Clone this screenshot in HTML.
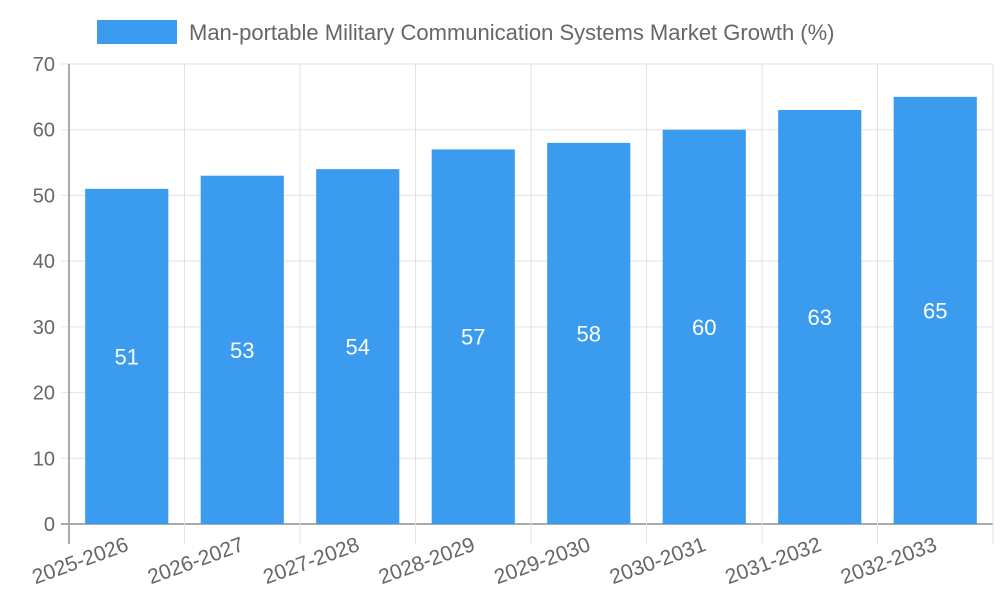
<!DOCTYPE html>
<html><head><meta charset="utf-8"><style>
body{margin:0;background:#fff;}
svg{display:block;font-family:"Liberation Sans",sans-serif;}
</style></head><body>
<svg id="chart" width="1000" height="600">
<rect x="97" y="20" width="80" height="24" fill="#3a9bef"></rect>
<text x="189" y="40" font-size="22" fill="#666">Man-portable Military Communication Systems Market Growth (%)</text>
</svg>
<script>
const categories=["2025-2026","2026-2027","2027-2028","2028-2029","2029-2030","2030-2031","2031-2032","2032-2033"];
const values=[51,53,54,57,58,60,63,65];
const yTicks=[0,10,20,30,40,50,60,70];
const svg=document.getElementById('chart');
const NS='http://www.w3.org/2000/svg';
const X0=69,X1=993,Y0=524,Y1=64,YMAX=70;
const bw=(X1-X0)/categories.length;
const y=v=>Y0-(v/YMAX)*(Y0-Y1);
const x=i=>X0+i*bw;
function mk(t,a){const e=document.createElementNS(NS,t);for(const k in a)e.setAttribute(k,a[k]);svg.appendChild(e);return e;}
yTicks.forEach(t=>{
  const l=mk('line',{x1:X0-8,x2:X1,y1:y(t),y2:y(t),stroke:t===0?'#aaa':'#e2e2e2','stroke-width':t===0?2:1});
  
  
  const tx=mk('text',{x:X0-14,y:y(t)+7,'text-anchor':'end','font-size':20,fill:'#666'});
  tx.textContent=t;
  
  
});
for(let i=0;i<=categories.length;i++){
  const l=mk('line',{x1:x(i),x2:x(i),y1:Y1,y2:Y0+20,stroke:i===0?'#aaa':'#e2e2e2','stroke-width':i===0?2:1});
  
  
}
categories.forEach((c,i)=>{
  const cx=x(i)+bw/2, w=bw*0.72;
  const r=mk('rect',{x:cx-w/2,y:y(values[i]),width:w,height:Y0-y(values[i]),fill:'#3a9bef'});
  
  
  const v=mk('text',{x:cx,y:(y(values[i])+Y0)/2+8,'text-anchor':'middle','font-size':22,fill:'#fff'});
  v.textContent=values[i];
  
  
  const lx=cx+3, ly=550;
  const t=mk('text',{x:lx,y:ly,'text-anchor':'end','font-size':21,fill:'#666',transform:`rotate(-20 ${lx} ${ly})`});
  t.textContent=c;
  
  
});
</script>
</body></html>
